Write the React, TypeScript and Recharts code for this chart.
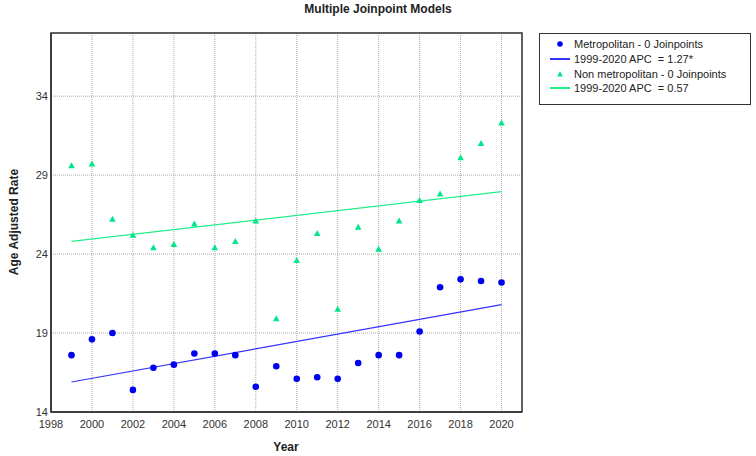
import { ComposedChart, XAxis, YAxis, CartesianGrid, Scatter, Line, ReferenceArea } from "recharts";

const years = [1999, 2000, 2001, 2002, 2003, 2004, 2005, 2006, 2007, 2008, 2009, 2010, 2011, 2012, 2013, 2014, 2015, 2016, 2017, 2018, 2019, 2020];
const metro = [17.6, 18.6, 19.0, 15.4, 16.8, 17.0, 17.7, 17.7, 17.6, 15.6, 16.9, 16.1, 16.2, 16.1, 17.1, 17.6, 17.6, 19.1, 21.9, 22.4, 22.3, 22.2];
const nonmetro = [29.6, 29.7, 26.2, 25.2, 24.4, 24.6, 25.9, 24.4, 24.8, 26.1, 19.9, 23.6, 25.3, 20.5, 25.7, 24.3, 26.1, 27.4, 27.8, 30.1, 31.0, 32.3];
// fitted APC lines, only the end years are given
const metroFit: Record<number, number> = { 1999: 15.9, 2020: 20.8 };
const nonmetroFit: Record<number, number> = { 1999: 24.8, 2020: 27.95 };

const xTicks = [1998, 2000, 2002, 2004, 2006, 2008, 2010, 2012, 2014, 2016, 2018, 2020];
const yTicks = [14, 19, 24, 29, 34];

const legendItems = [
  { label: "Metropolitan - 0 Joinpoints", kind: "circle", color: "#0000f0" },
  { label: "1999-2020 APC  = 1.27*", kind: "line", color: "#3333ff" },
  { label: "Non metropolitan - 0 Joinpoints", kind: "triangle", color: "#00e68a" },
  { label: "1999-2020 APC  = 0.57", kind: "line", color: "#22ee88" },
];

const data = years.map((year, i) => ({
  year,
  metro: metro[i],
  nonmetro: nonmetro[i],
  metroFit: metroFit[year] ?? null,
  nonmetroFit: nonmetroFit[year] ?? null,
}));

const font = "'Liberation Sans', Arial, sans-serif";

const Dot = (props: any) => <circle cx={props.cx} cy={props.cy} r={3.3} fill="#0000f0" />;
const Tri = (props: any) => {
  const { cx, cy } = props;
  return <polygon points={`${cx},${cy - 3.5} ${cx - 3.3},${cy + 2.5} ${cx + 3.3},${cy + 2.5}`} fill="#00e68a" />;
};

export default function App() {
  const tick = { fontSize: 11, fill: "#333", fontFamily: font };
  return (
    <div style={{ position: "absolute", left: 0, top: 0, width: 756, height: 456, background: "#fff", fontFamily: font }}>
      <div style={{ position: "absolute", top: 2, left: 0, width: 756, textAlign: "center", fontSize: 12, fontWeight: "bold", color: "#222" }}>
        Multiple Joinpoint Models
      </div>
      <div style={{ position: "absolute", left: 14, top: 222, transform: "translate(-50%, -50%) rotate(-90deg)", fontSize: 12, fontWeight: "bold", color: "#222", whiteSpace: "nowrap" }}>
        Age Adjusted Rate
      </div>
      <div style={{ position: "absolute", left: 286, top: 447, transform: "translate(-50%, -50%)", fontSize: 12, fontWeight: "bold", color: "#222" }}>
        Year
      </div>
      <ComposedChart width={756} height={456} data={data} margin={{ top: 33, right: 234, bottom: 0, left: 0 }}>
        <CartesianGrid stroke="#aaa" strokeDasharray="1 1" />
        <XAxis dataKey="year" type="number" domain={[1998, 2021]} ticks={xTicks} height={44} tickLine={false} tickSize={6} tick={tick} axisLine={{ stroke: "#333", strokeWidth: 1.5 }} interval={0} />
        <YAxis type="number" domain={[14, 38]} ticks={yTicks} width={51} tickLine={false} tickSize={3} tickMargin={0} tick={tick} axisLine={{ stroke: "#333", strokeWidth: 1.5 }} interval={0} />
        <ReferenceArea x1={1998} x2={2021} y1={14} y2={38} fill="none" fillOpacity={0} stroke="#333" strokeWidth={1.5} />
        <Line dataKey="metroFit" stroke="#3333ff" strokeWidth={1.2} dot={false} connectNulls isAnimationActive={false} />
        <Line dataKey="nonmetroFit" stroke="#22ee88" strokeWidth={1.2} dot={false} connectNulls isAnimationActive={false} />
        <Scatter dataKey="metro" shape={Dot} isAnimationActive={false} />
        <Scatter dataKey="nonmetro" shape={Tri} isAnimationActive={false} />
      </ComposedChart>
      <div style={{ position: "absolute", left: 539, top: 33, width: 212, height: 72, border: "1px solid #333", boxSizing: "border-box" }}>
        {legendItems.map((item, i) => (
          <div key={i} style={{ position: "absolute", left: 0, top: 3 + i * 14.8, height: 14, display: "flex", alignItems: "center", fontSize: 11, color: "#222", whiteSpace: "pre" }}>
            <svg width={34} height={14}>
              {item.kind === "circle" && <circle cx={20} cy={7} r={2.8} fill={item.color} />}
              {item.kind === "triangle" && <polygon points="20,4 17.2,9.5 22.8,9.5" fill={item.color} />}
              {item.kind === "line" && <line x1={10} x2={30} y1={7} y2={7} stroke={item.color} strokeWidth={2} />}
            </svg>
            <span>{item.label}</span>
          </div>
        ))}
      </div>
    </div>
  );
}
